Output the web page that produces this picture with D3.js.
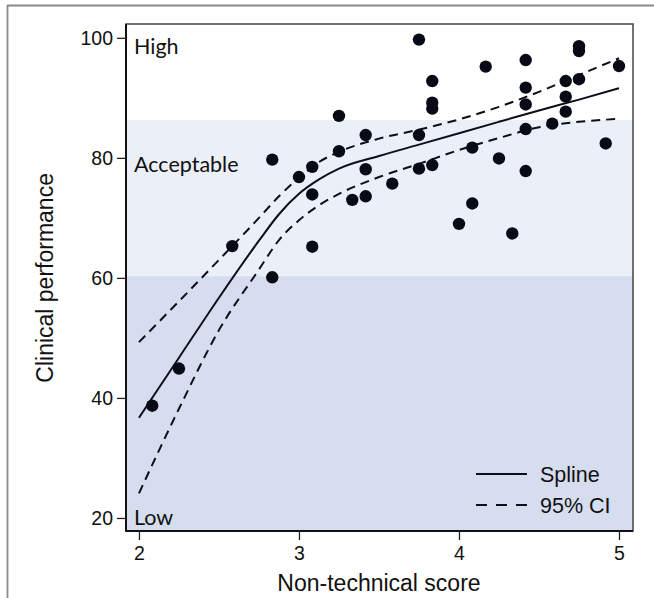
<!DOCTYPE html>
<html>
<head>
<meta charset="utf-8">
<script src="https://cdn.jsdelivr.net/npm/d3@7"></script>
<style>
  html, body { margin: 0; padding: 0; background: #fff; }
  svg { display: block; }
</style>
</head>
<body>
<svg id="chart" width="654" height="598"></svg>
<script>
// ---------------- data ----------------
const xTicks = [2, 3, 4, 5];
const yTicks = [20, 40, 60, 80, 100];

const nonTechScore = [2.083, 2.25, 2.583, 2.833, 2.833, 3.0, 3.083, 3.083, 3.083, 3.25,
  3.25, 3.333, 3.417, 3.417, 3.417, 3.583, 3.75, 3.75, 3.75, 3.833,
  3.833, 3.833, 3.833, 4.0, 4.083, 4.083, 4.167, 4.25, 4.333, 4.417,
  4.417, 4.417, 4.417, 4.417, 4.583, 4.667, 4.667, 4.667, 4.75, 4.75,
  4.75, 4.917, 5.0];
const clinicalPerf = [38.7, 44.9, 65.3, 79.7, 60.1, 76.8, 78.5, 73.9, 65.2, 87.0,
  81.1, 73.0, 83.8, 78.1, 73.6, 75.7, 99.7, 83.8, 78.2, 92.8,
  89.2, 88.2, 78.8, 69.0, 72.4, 81.7, 95.2, 79.9, 67.4, 96.3,
  91.7, 88.9, 84.8, 77.8, 85.7, 92.8, 90.2, 87.7, 98.6, 97.8,
  93.1, 82.4, 95.3];

const splineGrid = [2.0, 2.25, 2.5, 2.75, 2.875, 3.0, 3.125, 3.25, 3.5, 3.75, 4.0, 4.25, 4.5, 4.75, 5.0];
const splineFit  = [36.7, 46.7, 56.7, 66.2, 70.6, 74.0, 76.4, 78.2, 80.3, 82.2, 84.1, 86.0, 87.9, 89.7, 91.6];
const ciUpper    = [49.3, 56.1, 63.0, 70.0, 73.6, 76.7, 79.3, 81.0, 83.2, 84.7, 86.4, 88.5, 91.0, 93.8, 96.6];
const ciLower    = [24.1, 38.2, 51.3, 61.4, 66.3, 69.6, 72.1, 74.0, 76.8, 79.0, 81.3, 83.3, 85.1, 86.0, 86.5];

const bandEdges  = [60.3, 86.3];
const bandNames  = ["Low", "Acceptable", "High"];
const legendKeys = ["Spline", "95% CI"];

// ---------------- layout ----------------
const svg = d3.select("#chart");
const L = 126, R = 633, T = 24, B = 531;
const x = d3.scaleLinear().domain([1.919, 5.0875]).range([L, R]);
const y = d3.scaleLinear().domain([17.83, 102.3]).range([B, T]);

// outer frame (top + left)
svg.append("line").attr("x1", 7).attr("x2", 654).attr("y1", 5.5).attr("y2", 5.5)
  .attr("stroke", "#8a8a8a").attr("stroke-width", 1.8);
svg.append("line").attr("x1", 7.5).attr("x2", 7.5).attr("y1", 5).attr("y2", 598)
  .attr("stroke", "#8a8a8a").attr("stroke-width", 1.8);

// bands
const dom = y.domain();
const bandData = [
  { lo: dom[0], hi: bandEdges[0], fill: "#d5ddef" },
  { lo: bandEdges[0], hi: bandEdges[1], fill: "#ebf0f8" }
];
svg.selectAll("rect.band").data(bandData).join("rect").attr("class", "band")
  .attr("x", L).attr("width", R - L)
  .attr("y", d => y(d.hi)).attr("height", d => y(d.lo) - y(d.hi))
  .attr("fill", d => d.fill);

// band labels
const labelFont = "Lato, 'Open Sans', sans-serif";
const bandLabelPos = [{ v: 20, dy: 7.5 }, { v: 80, dy: 14 }, { v: 100, dy: 16.5 }];
svg.selectAll("text.band").data(bandNames).join("text").attr("class", "band")
  .attr("x", 134).attr("y", (d, i) => y(bandLabelPos[i].v) + bandLabelPos[i].dy)
  .attr("font-family", labelFont).attr("font-size", 21.5).attr("fill", "#111")
  .text(d => d);

// lines
const pts = (arr) => splineGrid.map((g, i) => [g, arr[i]]);
const line = d3.line().x(d => x(d[0])).y(d => y(d[1])).curve(d3.curveMonotoneX);
svg.append("path").attr("d", line(pts(splineFit))).attr("fill", "none")
  .attr("stroke", "#0c0f1a").attr("stroke-width", 2);
[ciUpper, ciLower].forEach(arr => {
  svg.append("path").attr("d", line(pts(arr))).attr("fill", "none")
    .attr("stroke", "#0c0f1a").attr("stroke-width", 2).attr("stroke-dasharray", "9,6");
});

// points
svg.selectAll("circle.pt").data(nonTechScore).join("circle").attr("class", "pt")
  .attr("cx", d => x(d)).attr("cy", (d, i) => y(clinicalPerf[i]))
  .attr("r", 6.2).attr("fill", "#080b16");

// frame
svg.append("rect").attr("x", L).attr("y", T).attr("width", R - L).attr("height", B - T)
  .attr("fill", "none").attr("stroke", "#444").attr("stroke-width", 1.5);
svg.append("line").attr("x1", L).attr("x2", L).attr("y1", T).attr("y2", B + 0.75)
  .attr("stroke", "#111").attr("stroke-width", 2);
svg.append("line").attr("x1", L).attr("x2", R).attr("y1", B).attr("y2", B)
  .attr("stroke", "#111").attr("stroke-width", 2);

// axes
const tickFont = "'Liberation Sans', Arial, sans-serif";
const xAxis = svg.append("g").attr("transform", `translate(0,${B})`)
  .call(d3.axisBottom(x).tickValues(xTicks).tickSize(9).tickPadding(6).tickFormat(d3.format("d")));
const yAxis = svg.append("g").attr("transform", `translate(${L},0)`)
  .call(d3.axisLeft(y).tickValues(yTicks).tickSize(9).tickPadding(4).tickFormat(d3.format("d")));
[xAxis, yAxis].forEach(g => {
  g.select(".domain").remove();
  g.selectAll(".tick line").attr("stroke", "#222").attr("stroke-width", 1.3);
  g.selectAll(".tick text").attr("font-family", tickFont).attr("font-size", 19.5).attr("fill", "#111");
});

// axis titles
svg.append("text").attr("x", (x(2) + x(5)) / 2).attr("y", 591)
  .attr("text-anchor", "middle").attr("font-family", tickFont).attr("font-size", 23)
  .attr("fill", "#111").text("Non-technical score");
svg.append("text").attr("transform", `translate(53,${(y(20) + y(100)) / 2}) rotate(-90)`)
  .attr("text-anchor", "middle").attr("font-family", tickFont).attr("font-size", 23)
  .attr("fill", "#111").text("Clinical performance");

// legend
const legY = [474, 505];
const leg = svg.selectAll("g.leg").data(legendKeys).join("g").attr("class", "leg")
  .attr("transform", (d, i) => `translate(476,${legY[i]})`);
leg.append("line").attr("x1", 0).attr("x2", 51).attr("y1", 0).attr("y2", 0)
  .attr("stroke", "#0c0f1a").attr("stroke-width", 2)
  .attr("stroke-dasharray", (d, i) => i === 0 ? null : "11,9");
leg.append("text").attr("x", 64).attr("y", 8).attr("font-family", tickFont)
  .attr("font-size", 21.5).attr("fill", "#111").text(d => d);
</script>
</body>
</html>
